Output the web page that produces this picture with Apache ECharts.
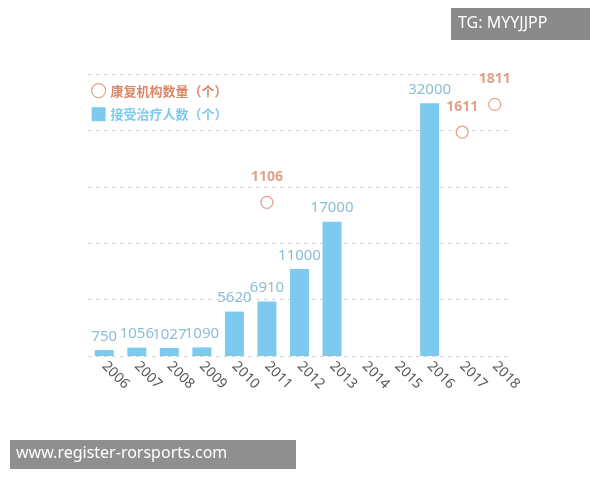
<!DOCTYPE html>
<html>
<head>
<meta charset="utf-8">
<script src="https://cdn.jsdelivr.net/npm/echarts@6/dist/echarts.min.js"></script>
<style>
  html, body { margin: 0; padding: 0; background: #fff; }
  #chart { width: 600px; height: 480px; }
</style>
</head>
<body>
<div id="chart"></div>
<script>
var years = ['2006', '2007', '2008', '2009', '2010', '2011', '2012', '2013', '2014', '2015', '2016', '2017', '2018'];
var patients = [750, 1056, 1027, 1090, 5620, 6910, 11000, 17000, null, null, 32000, null, null];
var institutions = [null, null, null, null, null, 1106, null, null, null, null, null, 1611, 1811];
var seriesNames = ['康复机构数量（个）', '接受治疗人数（个）'];

var orange = '#d8896a';
var blue = '#7ccaee';

var chart = echarts.init(document.getElementById('chart'), null, { renderer: 'canvas' });
chart.setOption({
  animation: false,
  grid: { left: 88, right: 89, top: 74, bottom: 124 },
  legend: {
    left: 86,
    top: 78,
    orient: 'vertical',
    itemGap: 9,
    itemWidth: 14,
    itemHeight: 14,
    textStyle: { fontSize: 13, fontWeight: 'bold', fontFamily: 'Noto Sans CJK SC' },
    data: [
      { name: seriesNames[0], icon: 'circle', itemStyle: { color: '#fff', borderColor: orange, borderWidth: 1.2 }, textStyle: { color: orange } },
      { name: seriesNames[1], icon: 'rect', textStyle: { color: blue } }
    ]
  },
  xAxis: {
    type: 'category',
    data: years,
    axisLine: { show: false },
    axisTick: { show: false },
    axisLabel: { rotate: -45, color: '#555', fontSize: 14, margin: 8, fontFamily: 'Noto Sans' }
  },
  yAxis: [{
    type: 'value',
    min: 0,
    max: 35700,
    interval: 7140,
    axisLabel: { show: false },
    axisLine: { show: false },
    axisTick: { show: false },
    splitLine: { lineStyle: { color: '#d8d8d8', type: [4, 4] } }
  }, {
    type: 'value',
    min: 0,
    max: 2030,
    show: false,
    splitLine: { show: false }
  }],
  series: [{
    name: seriesNames[0],
    type: 'scatter',
    yAxisIndex: 1,
    data: institutions,
    symbol: 'circle',
    symbolSize: 12,
    itemStyle: { color: '#fff', borderColor: orange, borderWidth: 1.2 },
    label: { show: true, position: 'top', distance: 12, color: orange, fontSize: 14, fontWeight: 'bold', fontFamily: 'Noto Sans' },
    z: 5
  }, {
    name: seriesNames[1],
    type: 'bar',
    data: patients,
    barWidth: 19,
    itemStyle: { color: blue },
    label: { show: true, position: 'top', distance: 6, color: '#8bbdd5', fontSize: 15, fontFamily: 'Noto Sans' }
  }],
  graphic: [{
    type: 'rect', left: 451, top: 8, shape: { width: 139, height: 32 }, style: { fill: '#8a8a8a' }
  }, {
    type: 'text', left: 458, top: 15, style: { text: 'TG: MYYJJPP', fill: '#fff', font: '16px Noto Sans' }
  }, {
    type: 'rect', left: 10, top: 440, shape: { width: 286, height: 29 }, style: { fill: '#8f8f8f' }
  }, {
    type: 'text', left: 16, top: 445, style: { text: 'www.register-rorsports.com', fill: '#fff', font: '16px Noto Sans' }
  }]
});
</script>
</body>
</html>
